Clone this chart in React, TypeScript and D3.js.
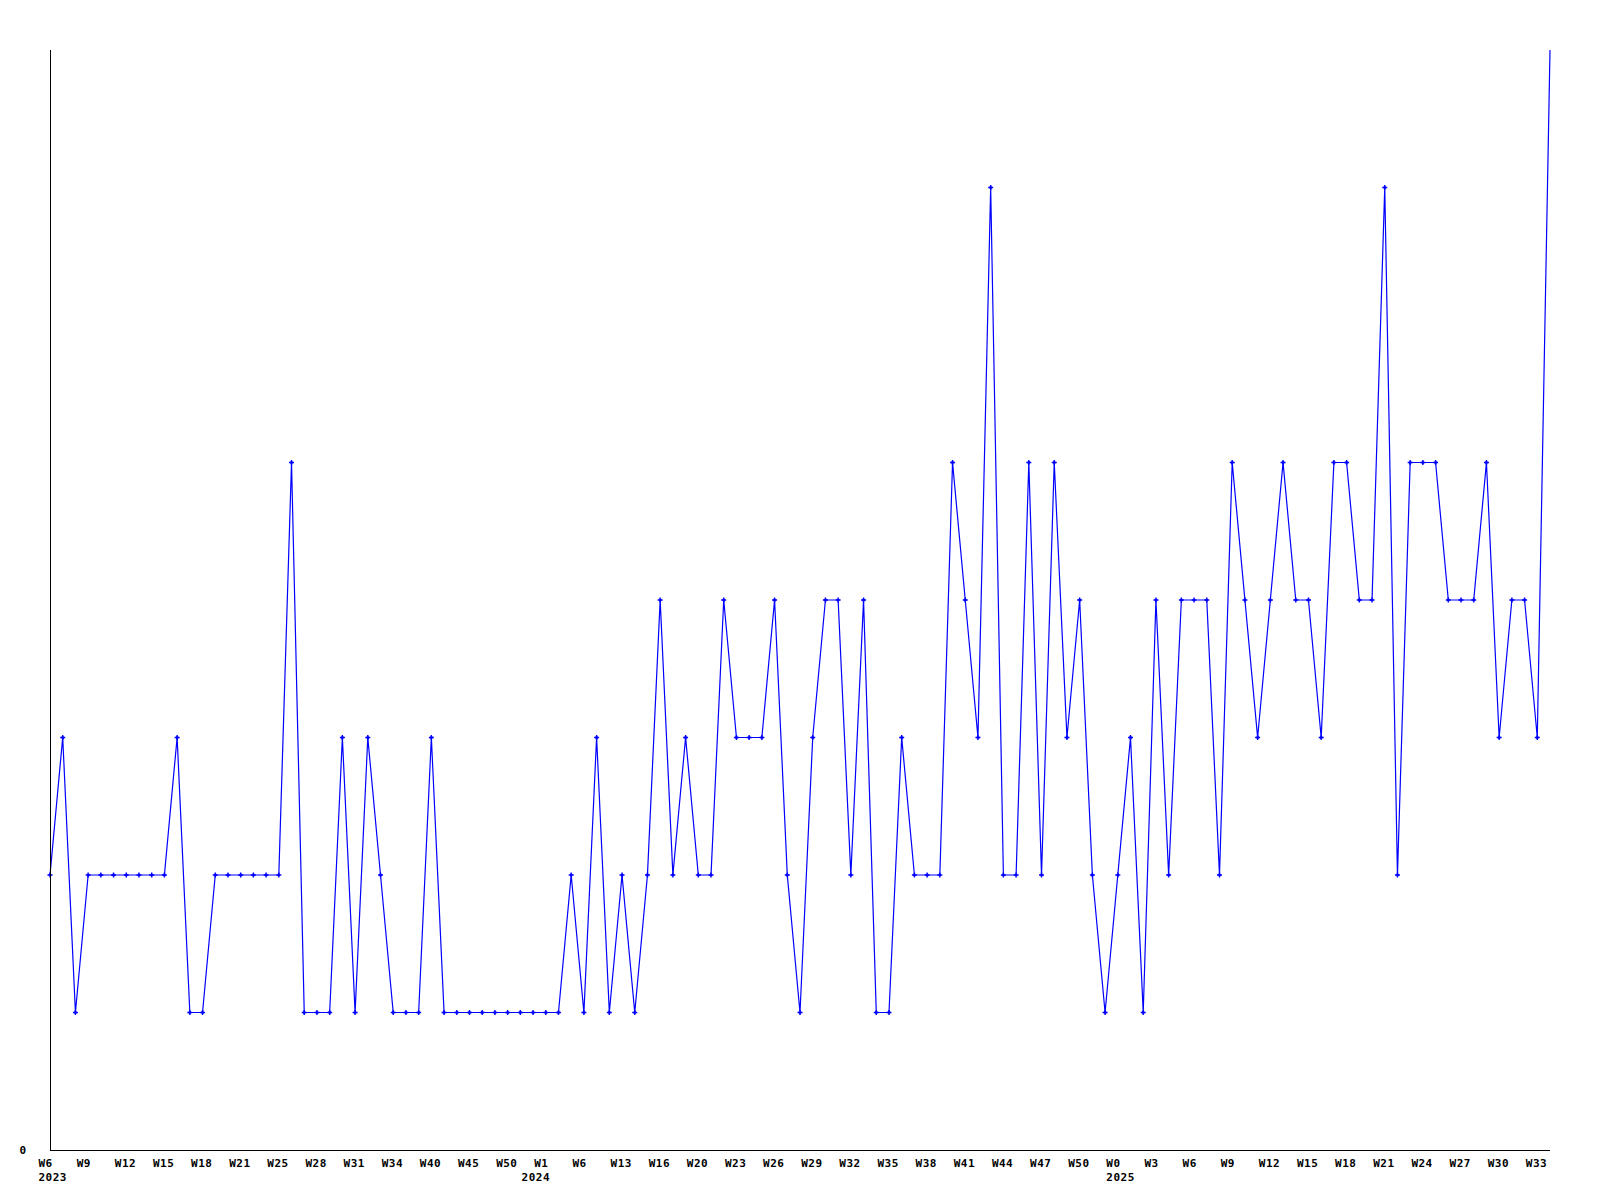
import React from "react";
import * as d3 from "d3";

const values: number[] = [
  2, 3, 1, 2, 2, 2, 2, 2, 2, 2,
  3, 1, 1, 2, 2, 2, 2, 2, 2, 5,
  1, 1, 1, 3, 1, 3, 2, 1, 1, 1,
  3, 1, 1, 1, 1, 1, 1, 1, 1, 1,
  1, 2, 1, 3, 1, 2, 1, 2, 4, 2,
  3, 2, 2, 4, 3, 3, 3, 4, 2, 1,
  3, 4, 4, 2, 4, 1, 1, 3, 2, 2,
  2, 5, 4, 3, 7, 2, 2, 5, 2, 5,
  3, 4, 2, 1, 2, 3, 1, 4, 2, 4,
  4, 4, 2, 5, 4, 3, 4, 5, 4, 4,
  3, 5, 5, 4, 4, 7, 2, 5, 5, 5,
  4, 4, 4, 5, 3, 4, 4, 3, 8,
];

// week labels drawn at every third point
const tickLabels: string[] = [
  "W6", "W9", "W12", "W15", "W18", "W21", "W25", "W28", "W31", "W34",
  "W40", "W45", "W50", "W1", "W6", "W13", "W16", "W20", "W23", "W26",
  "W29", "W32", "W35", "W38", "W41", "W44", "W47", "W50", "W0", "W3",
  "W6", "W9", "W12", "W15", "W18", "W21", "W24", "W27", "W30", "W33",
];
const tickEvery = 3;

const yearLabels: string[] = ["2023", "2024", "2025"];
const yearIndexes: number[] = [0, 38, 84];

const yTickValues: number[] = [0];
const yMax = 8;

const W = 1600;
const H = 1200;
const left = 50;
const right = 1550;
const top = 50;
const bottom = 1150;

export default function App() {
  const x = d3.scaleLinear().domain([0, values.length - 1]).range([left, right]);
  const y = d3.scaleLinear().domain([0, yMax]).range([bottom, top]);
  const line = d3
    .line<number>()
    .x((_, i) => x(i))
    .y((d) => y(d));
  const font = "'DejaVu Sans Mono', monospace";

  return (
    <svg
      width={W}
      height={H}
      style={{ position: "absolute", left: 0, top: 0, background: "#fff" }}
    >
      <rect x={0} y={0} width={W} height={H} fill="#fff" />
      <path
        d={line(values) || ""}
        fill="none"
        stroke="#0000ff"
        strokeWidth={1.2}
      />
      {values.map((v, i) =>
        i === values.length - 1 ? null : (
          <g key={i} transform={`translate(${x(i)},${y(v)})`}>
            <path d="M-2.5,0H2.5M0,-2.5V2.5" stroke="#0000ff" strokeWidth={1.4} />
            <rect x={-1.2} y={-1.2} width={2.4} height={2.4} fill="#0000ff" />
          </g>
        )
      )}
      <line x1={left} y1={top} x2={left} y2={bottom} stroke="#000" strokeWidth={1} shapeRendering="crispEdges" />
      <line x1={left} y1={bottom} x2={right} y2={bottom} stroke="#000" strokeWidth={1} shapeRendering="crispEdges" />
      {yTickValues.map((t) => (
        <text
          key={t}
          x={26}
          y={y(t) + 4}
          textAnchor="end"
          fontFamily={font}
          fontWeight="bold"
          fontSize={11}
          fill="#000"
        >
          {t}
        </text>
      ))}
      {tickLabels.map((t, k) => (
        <text
          key={k}
          x={x(k * tickEvery) - 11.5}
          y={1167}
          fontFamily={font}
          fontWeight="bold"
          fontSize={11}
          letterSpacing={0.5}
          fill="#000"
        >
          {t}
        </text>
      ))}
      {yearLabels.map((t, k) => (
        <text
          key={t}
          x={x(yearIndexes[k]) - 11.5}
          y={1180.5}
          fontFamily={font}
          fontWeight="bold"
          fontSize={11}
          letterSpacing={0.5}
          fill="#000"
        >
          {t}
        </text>
      ))}
    </svg>
  );
}
